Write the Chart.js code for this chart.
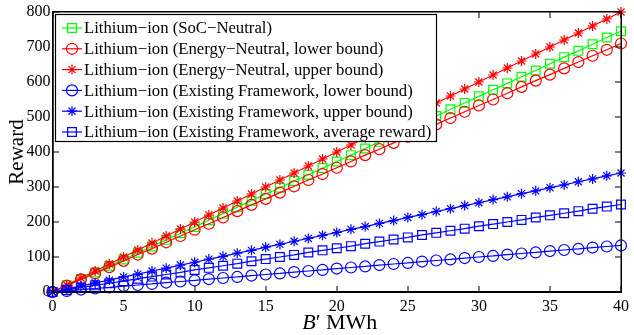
<!DOCTYPE html>
<html>
<head>
<meta charset="utf-8">
<script src="https://cdn.jsdelivr.net/npm/chart.js@4.4.0/dist/chart.umd.min.js"></script>
<style>
  html, body { margin: 0; padding: 0; background: #fff; }
  #wrap { width: 634px; height: 335px; }
</style>
</head>
<body>
<div id="wrap"><canvas id="c" width="634" height="335"></canvas></div>
<script>
// B' in MWh
var bValues = [0,1,2,3,4,5,6,7,8,9,10,11,12,13,14,15,16,17,18,19,20,
               21,22,23,24,25,26,27,28,29,30,31,32,33,34,35,36,37,38,39,40];

var socNeutral = [0,19,37,56,75,93,112,130,149,168,186,205,224,242,261,280,298,317,335,354,373,
                  391,410,429,447,466,484,503,522,540,559,578,596,615,633,652,671,689,708,727,745];
var energyLower = [0,18,36,53,71,89,107,124,142,160,178,195,213,231,249,266,284,302,320,337,355,
                   373,391,408,426,444,462,479,497,515,533,550,568,586,604,621,639,657,675,692,710];
var energyUpper = [0,20,40,60,80,100,120,140,160,180,200,220,240,260,280,300,320,340,360,380,400,
                   420,440,460,480,500,520,540,560,580,600,620,640,660,680,700,720,740,760,780,800];
var existLower = [0,3,7,10,13,17,20,23,27,30,33,37,40,43,47,50,53,57,60,63,67,
                  70,73,77,80,83,87,90,93,97,100,103,107,110,113,117,120,123,127,130,133];
var existUpper = [0,9,17,26,34,43,51,60,68,77,85,94,102,111,119,128,136,145,153,162,170,
                  179,187,196,204,213,221,230,238,247,255,264,272,281,289,298,306,315,323,332,340];
var existAvg = [0,6,13,19,25,31,38,44,50,56,63,69,75,81,88,94,100,106,113,119,125,
                131,138,144,150,156,163,169,175,181,188,194,200,206,213,219,225,231,238,244,250];

var xTicks = [0,5,10,15,20,25,30,35,40];
var yTicks = [0,100,200,300,400,500,600,700,800];

var seriesNames = [
  'Lithium\u2212ion (SoC\u2212Neutral)',
  'Lithium\u2212ion (Energy\u2212Neutral, lower bound)',
  'Lithium\u2212ion (Energy\u2212Neutral, upper bound)',
  'Lithium\u2212ion (Existing Framework, lower bound)',
  'Lithium\u2212ion (Existing Framework, upper bound)',
  'Lithium\u2212ion (Existing Framework, average reward)'
];
var seriesData = [socNeutral, energyLower, energyUpper, existLower, existUpper, existAvg];
var seriesColors = ['#00ff00', '#ff0000', '#ff0000', '#0000ff', '#0000ff', '#0000ff'];
var seriesMarkers = ['rect', 'circle', 'star', 'circle', 'star', 'rect'];
var markerRadius = { rect: 6.2, circle: 5.5, star: 5 };

var serif = '"Liberation Serif", "Times New Roman", serif';

function toPoints(arr) {
  return arr.map(function (v, i) { return { x: bValues[i], y: v }; });
}

var datasets = seriesData.map(function (arr, i) {
  return {
    label: seriesNames[i],
    data: toPoints(arr),
    borderColor: seriesColors[i],
    backgroundColor: 'rgba(0,0,0,0)',
    borderWidth: 1.2,
    pointStyle: seriesMarkers[i],
    pointRadius: markerRadius[seriesMarkers[i]],
    pointBorderWidth: 1.2,
    pointBorderColor: seriesColors[i],
    pointBackgroundColor: 'rgba(0,0,0,0)',
    tension: 0,
    clip: false,
    order: seriesData.length - i
  };
});

function resetCtx(ctx) {
  ctx.setTransform(1, 0, 0, 1, 0, 0);
  ctx.globalAlpha = 1;
  ctx.globalCompositeOperation = 'source-over';
  ctx.setLineDash([]);
}

// legend rectangle, kept here so the frame ticks can skip it
var legBox = { x: 55.5, y: 14.5, w: 381, h: 127 };

function insideLegend(x, y) {
  return x >= legBox.x - 1 && x <= legBox.x + legBox.w + 1 && y >= legBox.y - 1 && y <= legBox.y + legBox.h + 1;
}

// box frame with inward ticks on all four sides, drawn with fills
function drawFrame(chart) {
  var ctx = chart.ctx, a = chart.chartArea;
  var xs = chart.scales.x, ys = chart.scales.y;
  var L = Math.round(a.left), R = Math.round(a.right), T = Math.round(a.top), B = Math.round(a.bottom);
  ctx.save();
  resetCtx(ctx);
  ctx.fillStyle = '#000000';
  ctx.fillRect(L - 1, T - 1, R - L + 2, 1.5);
  ctx.fillRect(L - 1, B - 0.5, R - L + 2, 1.5);
  ctx.fillRect(L - 1, T - 1, 1.5, B - T + 2);
  ctx.fillRect(R - 0.5, T - 1, 1.5, B - T + 2);
  var tl = 6;
  xTicks.forEach(function (t) {
    var px = Math.round(xs.getPixelForValue(t));
    ctx.fillRect(px - 0.5, B - tl, 1, tl);
    if (!insideLegend(px, T + 3)) ctx.fillRect(px - 0.5, T, 1, tl);
  });
  yTicks.forEach(function (t) {
    var py = Math.round(ys.getPixelForValue(t));
    if (!insideLegend(L + 3, py)) ctx.fillRect(L, py - 0.5, tl, 1);
    ctx.fillRect(R - tl, py - 0.5, tl, 1);
  });
  ctx.restore();
}

// axis titles, legend box, then the frame on top
var titlesLegend = {
  id: 'titlesLegend',
  afterDraw: function (chart) {
    var ctx = chart.ctx, a = chart.chartArea;
    ctx.save();
    resetCtx(ctx);

    // x title: B' MWh
    ctx.fillStyle = '#000';
    ctx.textBaseline = 'alphabetic';
    var fsz = 22;
    var parts = [
      { t: 'B', f: 'italic ' + fsz + 'px ' + serif },
      { t: '\u2032', f: fsz + 'px ' + serif },
      { t: ' MWh', f: fsz + 'px ' + serif }
    ];
    var total = 0;
    parts.forEach(function (p) { ctx.font = p.f; p.w = ctx.measureText(p.t).width; total += p.w; });
    var cx = (a.left + a.right) / 2 + 3 - total / 2;
    parts.forEach(function (p) { ctx.font = p.f; ctx.textAlign = 'left'; ctx.fillText(p.t, cx, 329); cx += p.w; });

    // y title
    ctx.save();
    ctx.translate(23, (a.top + a.bottom) / 2);
    ctx.rotate(-Math.PI / 2);
    ctx.font = '21px ' + serif;
    ctx.textAlign = 'center';
    ctx.fillText('Reward', 0, 0);
    ctx.restore();

    // legend
    ctx.fillStyle = '#fff';
    ctx.fillRect(legBox.x, legBox.y, legBox.w, legBox.h);
    ctx.strokeStyle = '#000';
    ctx.lineWidth = 1.2;
    ctx.strokeRect(legBox.x, legBox.y, legBox.w, legBox.h);
    ctx.font = '16.7px ' + serif;
    ctx.textAlign = 'left';
    ctx.textBaseline = 'middle';
    seriesNames.forEach(function (name, i) {
      var ry = 28 + i * 20.8;
      ctx.strokeStyle = seriesColors[i];
      ctx.fillStyle = 'rgba(0,0,0,0)';
      ctx.lineWidth = 1.2;
      ctx.beginPath();
      ctx.moveTo(62, ry); ctx.lineTo(82, ry);
      ctx.stroke();
      Chart.helpers.drawPoint(ctx, {
        pointStyle: seriesMarkers[i],
        radius: markerRadius[seriesMarkers[i]],
        borderWidth: 1.2,
        rotation: 0
      }, 72, ry);
      ctx.fillStyle = '#000';
      ctx.fillText(name, 84, ry + 1);
    });
    ctx.restore();

    drawFrame(chart);
  }
};

new Chart(document.getElementById('c'), {
  type: 'line',
  data: { datasets: datasets },
  options: {
    responsive: false,
    animation: false,
    devicePixelRatio: 1,
    layout: { padding: { top: 12, right: 8, left: 0, bottom: 0 } },
    plugins: { legend: { display: false }, tooltip: { enabled: false } },
    scales: {
      x: {
        type: 'linear', min: 0, max: 40,
        afterBuildTicks: function (s) { s.ticks = xTicks.map(function (v) { return { value: v }; }); },
        afterFit: function (s) { s.height = 43; },
        grid: { display: false, drawTicks: false },
        border: { display: true, color: '#000', width: 1.5 },
        ticks: { color: '#000', padding: 5, maxRotation: 0, font: { family: serif, size: 16 } }
      },
      y: {
        type: 'linear', min: 0, max: 800,
        afterBuildTicks: function (s) { s.ticks = yTicks.map(function (v) { return { value: v }; }); },
        afterFit: function (s) { s.width = 52.5; },
        grid: { display: false, drawTicks: false },
        border: { display: true, color: '#000', width: 1.5 },
        ticks: { color: '#000', padding: 2, font: { family: serif, size: 16 } }
      }
    }
  },
  plugins: [titlesLegend]
});
</script>
</body>
</html>
